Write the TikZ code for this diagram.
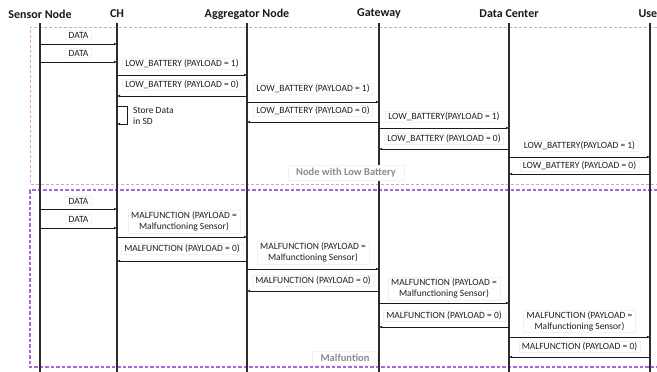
\documentclass[tikz,border=0pt]{standalone}
\usepackage{fontspec}
\setmainfont{Carlito}
\usetikzlibrary{arrows.meta}
\definecolor{pinkdash}{RGB}{214,160,214}
\definecolor{purpdash}{RGB}{165,105,220}
\definecolor{lifec}{RGB}{45,45,45}
\definecolor{notec}{RGB}{140,140,140}
\begin{document}
\begin{tikzpicture}[x=1pt,y=-1pt,
 head/.style={font=\fontsize{12}{14}\selectfont\bfseries, inner sep=0pt, text=black!90},
 life/.style={draw=lifec, line width=1.5pt},
 msg/.style={draw=black!90, line width=0.8pt, -{Latex[length=3pt,width=2.6pt]}},
 lbl/.style={font=\fontsize{9.5}{11}\selectfont, fill=white, draw=black!5, inner xsep=3pt, inner ysep=1.5pt, align=center, text=black!88},
 note/.style={font=\fontsize{10.5}{12}\selectfont\bfseries, text=notec, fill=white, draw=black!5, inner xsep=8pt, inner ysep=3pt},
 boxa/.style={draw=pinkdash, line width=0.8pt, dash pattern=on 3pt off 2pt},
 boxb/.style={draw=purpdash, line width=1.1pt, dash pattern=on 3.5pt off 2pt}]
\useasboundingbox (0,0) rectangle (657,372);
\fill[white] (0,0) rectangle (657,372);

% dashed frames
\draw[boxa] (657,27) -- (30,27) -- (30,184) -- (657,184);
\draw[boxb] (657,190) -- (30,190) -- (30,367) -- (657,367);

% headers and lifelines
\node[head] (hS) at (40,14) {Sensor Node};
\node[head] (hCH) at (117,14) {CH};
\node[head] (hAG) at (247,14) {Aggregator Node};
\node[head] (hGW) at (379,14) {Gateway};
\node[head] (hDC) at (509,14) {Data Center};
\node[head] (hUS) at (650,14) {User};
\coordinate (S) at (40,23);
\coordinate (CH) at (117,23);
\coordinate (AG) at (247,23);
\coordinate (GW) at (379,23);
\coordinate (DC) at (509,23);
\coordinate (US) at (650,23);
\foreach \c in {S,CH,AG,GW,DC,US} \draw[life] (\c) -- (\c |- 0,372);

% ---- Node with Low Battery ----
\node[lbl] (d1) at (78.5,35) {DATA};
\draw[msg] (S |- 0,44) -- (CH |- 0,44);
\node[lbl] (d2) at (78.5,53) {DATA};
\draw[msg] (S |- 0,62) -- (CH |- 0,62);
\node[lbl] (lb1) at (182,64) {LOW\_BATTERY (PAYLOAD = 1)};
\draw[msg] (CH |- 0,75) -- (AG |- 0,75);
\node[lbl] (lb2) at (182,85) {LOW\_BATTERY (PAYLOAD = 0)};
\draw[msg] (AG |- 0,96) -- (CH |- 0,96);
\node[lbl] (lb3) at (313,89) {LOW\_BATTERY (PAYLOAD = 1)};
\draw[msg] (AG |- 0,102) -- (GW |- 0,102);
\node[lbl] (lb4) at (313,111) {LOW\_BATTERY (PAYLOAD = 0)};
\draw[msg] (GW |- 0,122) -- (AG |- 0,122);
\node[lbl] (lb5) at (444,117) {LOW\_BATTERY(PAYLOAD = 1)};
\draw[msg] (GW |- 0,128) -- (DC |- 0,128);
\node[lbl] (lb6) at (444,139) {LOW\_BATTERY (PAYLOAD = 0)};
\draw[msg] (DC |- 0,149) -- (GW |- 0,149);
\node[lbl] (lb7) at (579.5,146) {LOW\_BATTERY(PAYLOAD = 1)};
\draw[msg] (DC |- 0,157) -- (US |- 0,157);
\node[lbl] (lb8) at (579.5,166) {LOW\_BATTERY (PAYLOAD = 0)};
\draw[msg] (US |- 0,174) -- (DC |- 0,174);
% self loop
\draw[msg] (CH |- 0,106) -- ++(10,0) -- ++(0,18) -- (CH |- 0,124);
\node[font=\fontsize{9.5}{11.5}\selectfont, align=left, anchor=west, text=black!88, inner sep=0pt] (sd) at (133,116) {Store Data\\in SD};
\node[note] (n1) at (346,173) {Node with Low Battery};

% ---- Malfunction ----
\node[lbl] (d3) at (78.5,201) {DATA};
\draw[msg] (S |- 0,209) -- (CH |- 0,209);
\node[lbl] (d4) at (78.5,219) {DATA};
\draw[msg] (S |- 0,228) -- (CH |- 0,228);
\node[lbl] (m1) at (184,221.5) {MALFUNCTION (PAYLOAD =\\Malfunctioning Sensor)};
\draw[msg] (CH |- 0,237) -- (AG |- 0,237);
\node[lbl] (m2) at (182,249) {MALFUNCTION (PAYLOAD = 0)};
\draw[msg] (AG |- 0,261) -- (CH |- 0,261);
\node[lbl] (m3) at (313,252.5) {MALFUNCTION (PAYLOAD =\\Malfunctioning Sensor)};
\draw[msg] (AG |- 0,269) -- (GW |- 0,269);
\node[lbl] (m4) at (313,281) {MALFUNCTION (PAYLOAD = 0)};
\draw[msg] (GW |- 0,291) -- (AG |- 0,291);
\node[lbl] (m5) at (444,288.5) {MALFUNCTION (PAYLOAD =\\Malfunctioning Sensor)};
\draw[msg] (GW |- 0,303) -- (DC |- 0,303);
\node[lbl] (m6) at (444,316) {MALFUNCTION (PAYLOAD = 0)};
\draw[msg] (DC |- 0,327) -- (GW |- 0,327);
\node[lbl] (m7) at (579.5,321) {MALFUNCTION (PAYLOAD =\\Malfunctioning Sensor)};
\draw[msg] (DC |- 0,337) -- (US |- 0,337);
\node[lbl] (m8) at (579.5,347) {MALFUNCTION (PAYLOAD = 0)};
\draw[msg] (US |- 0,357) -- (DC |- 0,357);
\node[note] (n2) at (345,358) {Malfuntion};
\end{tikzpicture}
\end{document}
